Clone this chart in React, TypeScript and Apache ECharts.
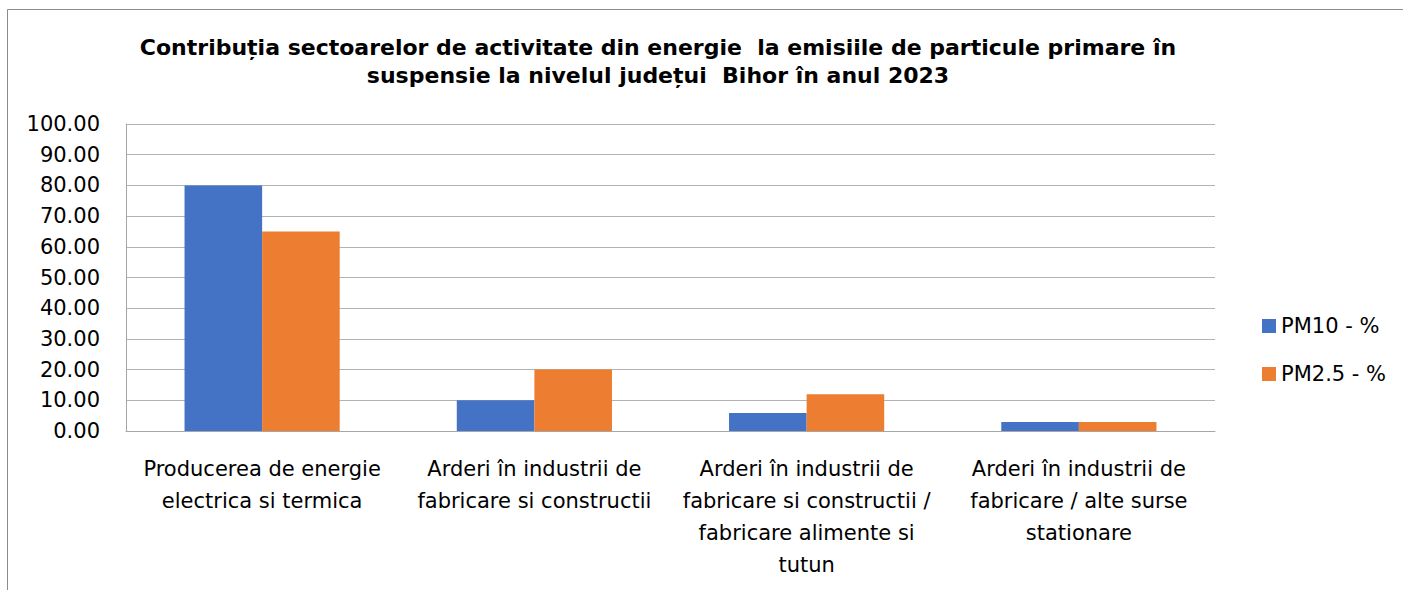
import React, { useEffect, useRef } from "react";
import * as echarts from "echarts";

const titleLines = [
  "Contribuția sectoarelor de activitate din energie  la emisiile de particule primare în",
  "suspensie la nivelul județui  Bihor în anul 2023",
];
const categories = [
  "Producerea de energie\nelectrica si termica",
  "Arderi în industrii de\nfabricare si constructii",
  "Arderi în industrii de\nfabricare si constructii /\nfabricare alimente si\ntutun",
  "Arderi în industrii de\nfabricare / alte surse\nstationare",
];
const seriesNames = ["PM10 - %", "PM2.5 - %"];
const pm10 = [80, 10, 5.9, 2.9];
const pm25 = [65, 20, 12, 2.9];
const colors = ["#4472C4", "#ED7D31"];

const FONT = "DejaVu Sans";

export default function App() {
  const ref = useRef<HTMLDivElement>(null);
  useEffect(() => {
    if (!ref.current) return;
    const chart = echarts.init(ref.current, undefined, { renderer: "svg" });
    chart.setOption({
      animation: false,
      backgroundColor: "#ffffff",
      graphic: [
        {
          type: "rect",
          shape: { x: 7.5, y: 9.5, width: 1500, height: 700 },
          style: { fill: "none", stroke: "#8c8c8c", lineWidth: 1 },
          silent: true,
        },
        {
          type: "text",
          x: 658,
          y: 33,
          style: {
            text: titleLines.join("\n"),
            font: `bold 22px "${FONT}"`,
            fill: "#000000",
            align: "center",
            lineHeight: 28,
          },
        },
      ],
      legend: {
        orient: "vertical",
        left: 1257,
        top: 309,
        itemWidth: 14,
        itemHeight: 14,
        itemGap: 24,
        icon: "rect",
        data: seriesNames,
        textStyle: { fontFamily: FONT, fontSize: 21, color: "#000", lineHeight: 24, padding: [0, 0, 0, 0] },
      },
      grid: { left: 126, right: 188, top: 124, bottom: 159, containLabel: false },
      xAxis: {
        type: "category",
        data: categories,
        axisTick: { show: false },
        axisLine: { show: true, lineStyle: { color: "#a6a6a6", width: 1 } },
        axisLabel: {
          interval: 0,
          fontFamily: FONT,
          fontSize: 21,
          color: "#000",
          lineHeight: 32,
          margin: 22,
        },
      },
      yAxis: {
        type: "value",
        min: 0,
        max: 100,
        interval: 10,
        axisLine: { show: true, lineStyle: { color: "#a6a6a6", width: 1 } },
        axisTick: { show: false },
        splitLine: { lineStyle: { color: "#b3b3b3", width: 1 } },
        axisLabel: {
          formatter: (v: number) => v.toFixed(2),
          fontFamily: FONT,
          fontSize: 21,
          color: "#000",
          margin: 26,
        },
      },
      series: [
        {
          name: seriesNames[0],
          type: "bar",
          data: pm10,
          itemStyle: { color: colors[0] },
          barGap: "0%",
          barCategoryGap: "43%",
        },
        {
          name: seriesNames[1],
          type: "bar",
          data: pm25,
          itemStyle: { color: colors[1] },
          barGap: "0%",
          barCategoryGap: "43%",
        },
      ],
    });
    return () => chart.dispose();
  }, []);
  return (
    <div
      ref={ref}
      style={{ position: "absolute", left: 0, top: 0, width: 1403, height: 590 }}
    />
  );
}
